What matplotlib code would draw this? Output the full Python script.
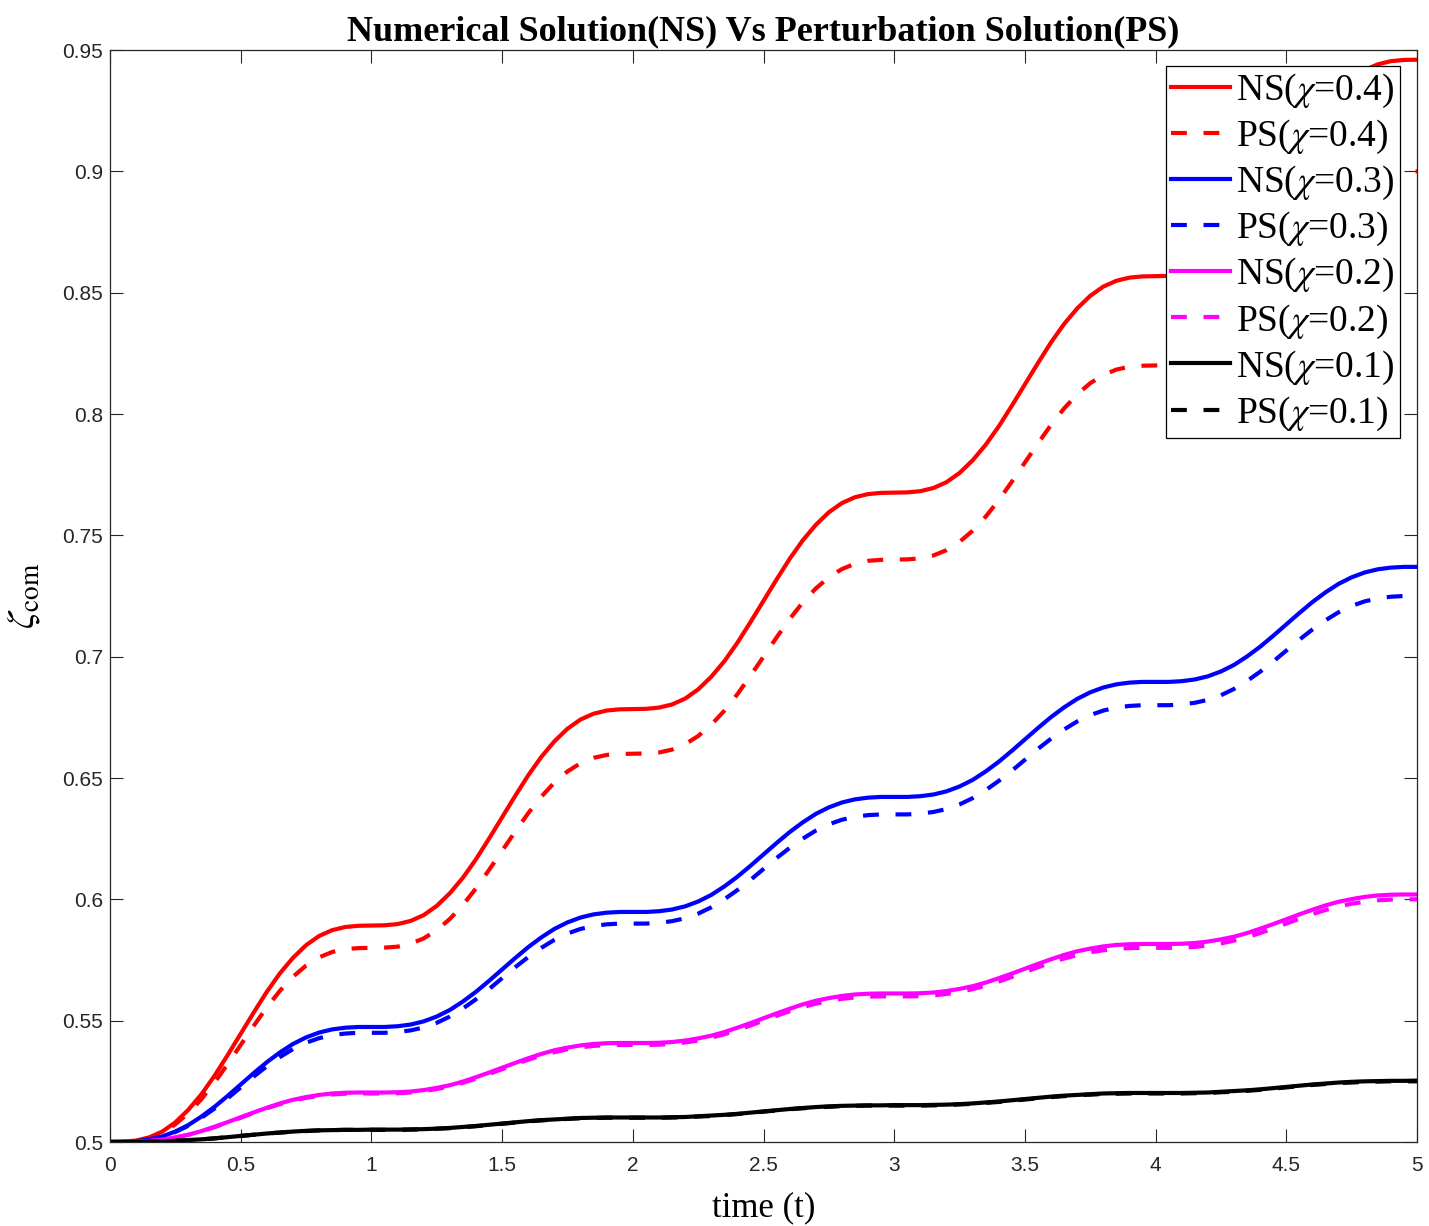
import matplotlib
matplotlib.use("Agg")
import matplotlib.pyplot as plt

# time samples every 0.05 from 0 to 5
t = [round(0.05 * i, 2) for i in range(101)]

ns_04 = [0.5000, 0.5001, 0.5006, 0.5019, 0.5043, 0.5081, 0.5133, 0.5197, 0.5273, 0.5358,
         0.5446, 0.5534, 0.5619, 0.5695, 0.5759, 0.5811, 0.5849, 0.5873, 0.5886, 0.5891,
         0.5892, 0.5893, 0.5898, 0.5911, 0.5935, 0.5973, 0.6025, 0.6089, 0.6165, 0.6250,
         0.6338, 0.6426, 0.6511, 0.6587, 0.6651, 0.6703, 0.6741, 0.6765, 0.6778, 0.6783,
         0.6784, 0.6785, 0.6790, 0.6803, 0.6827, 0.6865, 0.6917, 0.6981, 0.7057, 0.7142,
         0.7230, 0.7318, 0.7403, 0.7479, 0.7543, 0.7595, 0.7633, 0.7657, 0.7670, 0.7675,
         0.7676, 0.7677, 0.7682, 0.7695, 0.7719, 0.7757, 0.7809, 0.7873, 0.7949, 0.8034,
         0.8122, 0.8210, 0.8295, 0.8371, 0.8435, 0.8487, 0.8525, 0.8549, 0.8562, 0.8567,
         0.8568, 0.8569, 0.8574, 0.8587, 0.8611, 0.8649, 0.8701, 0.8765, 0.8841, 0.8926,
         0.9014, 0.9102, 0.9187, 0.9263, 0.9327, 0.9379, 0.9417, 0.9441, 0.9454, 0.9459,
         0.9460]
ps_04 = [0.5000, 0.5001, 0.5005, 0.5017, 0.5039, 0.5073, 0.5119, 0.5177, 0.5245, 0.5321,
         0.5400, 0.5479, 0.5555, 0.5623, 0.5681, 0.5727, 0.5761, 0.5783, 0.5795, 0.5799,
         0.5800, 0.5801, 0.5805, 0.5817, 0.5839, 0.5873, 0.5919, 0.5977, 0.6045, 0.6121,
         0.6200, 0.6279, 0.6355, 0.6423, 0.6481, 0.6527, 0.6561, 0.6583, 0.6595, 0.6599,
         0.6600, 0.6601, 0.6605, 0.6617, 0.6639, 0.6673, 0.6719, 0.6777, 0.6845, 0.6921,
         0.7000, 0.7079, 0.7155, 0.7223, 0.7281, 0.7327, 0.7361, 0.7383, 0.7395, 0.7399,
         0.7400, 0.7401, 0.7405, 0.7417, 0.7439, 0.7473, 0.7519, 0.7577, 0.7645, 0.7721,
         0.7800, 0.7879, 0.7955, 0.8023, 0.8081, 0.8127, 0.8161, 0.8183, 0.8195, 0.8199,
         0.8200, 0.8201, 0.8205, 0.8217, 0.8239, 0.8273, 0.8319, 0.8377, 0.8445, 0.8521,
         0.8600, 0.8679, 0.8755, 0.8823, 0.8881, 0.8927, 0.8961, 0.8983, 0.8995, 0.8999,
         0.9000]
ns_03 = [0.5000, 0.5000, 0.5003, 0.5010, 0.5023, 0.5043, 0.5070, 0.5105, 0.5145, 0.5190,
         0.5237, 0.5284, 0.5329, 0.5369, 0.5404, 0.5431, 0.5451, 0.5464, 0.5471, 0.5474,
         0.5474, 0.5474, 0.5477, 0.5484, 0.5497, 0.5517, 0.5544, 0.5579, 0.5619, 0.5664,
         0.5711, 0.5758, 0.5803, 0.5843, 0.5878, 0.5905, 0.5925, 0.5938, 0.5945, 0.5948,
         0.5948, 0.5948, 0.5951, 0.5958, 0.5971, 0.5991, 0.6018, 0.6053, 0.6093, 0.6138,
         0.6185, 0.6232, 0.6277, 0.6317, 0.6352, 0.6379, 0.6399, 0.6412, 0.6419, 0.6422,
         0.6422, 0.6422, 0.6425, 0.6432, 0.6445, 0.6465, 0.6492, 0.6527, 0.6567, 0.6612,
         0.6659, 0.6706, 0.6751, 0.6791, 0.6826, 0.6853, 0.6873, 0.6886, 0.6893, 0.6896,
         0.6896, 0.6896, 0.6899, 0.6906, 0.6919, 0.6939, 0.6966, 0.7001, 0.7041, 0.7086,
         0.7133, 0.7180, 0.7225, 0.7265, 0.7300, 0.7327, 0.7347, 0.7360, 0.7367, 0.7370,
         0.7370]
ps_03 = [0.5000, 0.5000, 0.5003, 0.5010, 0.5022, 0.5041, 0.5067, 0.5100, 0.5138, 0.5180,
         0.5225, 0.5270, 0.5312, 0.5350, 0.5383, 0.5409, 0.5428, 0.5440, 0.5447, 0.5450,
         0.5450, 0.5450, 0.5453, 0.5460, 0.5472, 0.5491, 0.5517, 0.5550, 0.5588, 0.5630,
         0.5675, 0.5720, 0.5762, 0.5800, 0.5833, 0.5859, 0.5878, 0.5890, 0.5897, 0.5900,
         0.5900, 0.5900, 0.5903, 0.5910, 0.5922, 0.5941, 0.5967, 0.6000, 0.6038, 0.6080,
         0.6125, 0.6170, 0.6212, 0.6250, 0.6283, 0.6309, 0.6328, 0.6340, 0.6347, 0.6350,
         0.6350, 0.6350, 0.6353, 0.6360, 0.6372, 0.6391, 0.6417, 0.6450, 0.6488, 0.6530,
         0.6575, 0.6620, 0.6662, 0.6700, 0.6733, 0.6759, 0.6778, 0.6790, 0.6797, 0.6800,
         0.6800, 0.6800, 0.6803, 0.6810, 0.6822, 0.6841, 0.6867, 0.6900, 0.6938, 0.6980,
         0.7025, 0.7070, 0.7112, 0.7150, 0.7183, 0.7209, 0.7228, 0.7240, 0.7247, 0.7250,
         0.7250]
ns_02 = [0.5000, 0.5000, 0.5001, 0.5004, 0.5010, 0.5019, 0.5030, 0.5045, 0.5063, 0.5082,
         0.5102, 0.5122, 0.5141, 0.5159, 0.5174, 0.5185, 0.5194, 0.5200, 0.5203, 0.5204,
         0.5204, 0.5204, 0.5205, 0.5208, 0.5214, 0.5223, 0.5234, 0.5249, 0.5267, 0.5286,
         0.5306, 0.5326, 0.5345, 0.5363, 0.5378, 0.5389, 0.5398, 0.5404, 0.5407, 0.5408,
         0.5408, 0.5408, 0.5409, 0.5412, 0.5418, 0.5427, 0.5438, 0.5453, 0.5471, 0.5490,
         0.5510, 0.5530, 0.5549, 0.5567, 0.5582, 0.5593, 0.5602, 0.5608, 0.5611, 0.5612,
         0.5612, 0.5612, 0.5613, 0.5616, 0.5622, 0.5631, 0.5642, 0.5657, 0.5675, 0.5694,
         0.5714, 0.5734, 0.5753, 0.5771, 0.5786, 0.5797, 0.5806, 0.5812, 0.5815, 0.5816,
         0.5816, 0.5816, 0.5817, 0.5820, 0.5826, 0.5835, 0.5846, 0.5861, 0.5879, 0.5898,
         0.5918, 0.5938, 0.5957, 0.5975, 0.5990, 0.6001, 0.6010, 0.6016, 0.6019, 0.6020,
         0.6020]
ps_02 = [0.5000, 0.5000, 0.5001, 0.5004, 0.5010, 0.5018, 0.5030, 0.5044, 0.5061, 0.5080,
         0.5100, 0.5120, 0.5139, 0.5156, 0.5170, 0.5182, 0.5190, 0.5196, 0.5199, 0.5200,
         0.5200, 0.5200, 0.5201, 0.5204, 0.5210, 0.5218, 0.5230, 0.5244, 0.5261, 0.5280,
         0.5300, 0.5320, 0.5339, 0.5356, 0.5370, 0.5382, 0.5390, 0.5396, 0.5399, 0.5400,
         0.5400, 0.5400, 0.5401, 0.5404, 0.5410, 0.5418, 0.5430, 0.5444, 0.5461, 0.5480,
         0.5500, 0.5520, 0.5539, 0.5556, 0.5570, 0.5582, 0.5590, 0.5596, 0.5599, 0.5600,
         0.5600, 0.5600, 0.5601, 0.5604, 0.5610, 0.5618, 0.5630, 0.5644, 0.5661, 0.5680,
         0.5700, 0.5720, 0.5739, 0.5756, 0.5770, 0.5782, 0.5790, 0.5796, 0.5799, 0.5800,
         0.5800, 0.5800, 0.5801, 0.5804, 0.5810, 0.5818, 0.5830, 0.5844, 0.5861, 0.5880,
         0.5900, 0.5920, 0.5939, 0.5956, 0.5970, 0.5982, 0.5990, 0.5996, 0.5999, 0.6000,
         0.6000]
ns_01 = [0.5000, 0.5000, 0.5000, 0.5001, 0.5002, 0.5005, 0.5008, 0.5011, 0.5015, 0.5020,
         0.5025, 0.5030, 0.5035, 0.5039, 0.5043, 0.5046, 0.5048, 0.5049, 0.5050, 0.5050,
         0.5051, 0.5051, 0.5051, 0.5052, 0.5053, 0.5055, 0.5058, 0.5062, 0.5066, 0.5071,
         0.5076, 0.5081, 0.5086, 0.5090, 0.5093, 0.5096, 0.5099, 0.5100, 0.5101, 0.5101,
         0.5101, 0.5101, 0.5101, 0.5102, 0.5103, 0.5106, 0.5109, 0.5112, 0.5116, 0.5121,
         0.5126, 0.5131, 0.5136, 0.5140, 0.5144, 0.5147, 0.5149, 0.5150, 0.5151, 0.5151,
         0.5152, 0.5152, 0.5152, 0.5153, 0.5154, 0.5156, 0.5159, 0.5163, 0.5167, 0.5172,
         0.5177, 0.5182, 0.5187, 0.5191, 0.5194, 0.5197, 0.5200, 0.5201, 0.5202, 0.5202,
         0.5202, 0.5202, 0.5202, 0.5203, 0.5204, 0.5207, 0.5210, 0.5213, 0.5217, 0.5222,
         0.5227, 0.5232, 0.5237, 0.5241, 0.5245, 0.5248, 0.5250, 0.5251, 0.5252, 0.5252,
         0.5253]
ps_01 = [0.5000, 0.5000, 0.5000, 0.5001, 0.5002, 0.5005, 0.5007, 0.5011, 0.5015, 0.5020,
         0.5025, 0.5030, 0.5035, 0.5039, 0.5043, 0.5045, 0.5048, 0.5049, 0.5050, 0.5050,
         0.5050, 0.5050, 0.5050, 0.5051, 0.5052, 0.5055, 0.5057, 0.5061, 0.5065, 0.5070,
         0.5075, 0.5080, 0.5085, 0.5089, 0.5093, 0.5095, 0.5098, 0.5099, 0.5100, 0.5100,
         0.5100, 0.5100, 0.5100, 0.5101, 0.5102, 0.5105, 0.5107, 0.5111, 0.5115, 0.5120,
         0.5125, 0.5130, 0.5135, 0.5139, 0.5143, 0.5145, 0.5148, 0.5149, 0.5150, 0.5150,
         0.5150, 0.5150, 0.5150, 0.5151, 0.5152, 0.5155, 0.5157, 0.5161, 0.5165, 0.5170,
         0.5175, 0.5180, 0.5185, 0.5189, 0.5193, 0.5195, 0.5198, 0.5199, 0.5200, 0.5200,
         0.5200, 0.5200, 0.5200, 0.5201, 0.5202, 0.5205, 0.5207, 0.5211, 0.5215, 0.5220,
         0.5225, 0.5230, 0.5235, 0.5239, 0.5243, 0.5245, 0.5248, 0.5249, 0.5250, 0.5250,
         0.5250]

chi_values = ["0.4", "0.3", "0.2", "0.1"]
colors = ["#ff0000", "#0000ff", "#ff00ff", "#000000"]
ns_series = [ns_04, ns_03, ns_02, ns_01]
ps_series = [ps_04, ps_03, ps_02, ps_01]

xticks = [0, 0.5, 1, 1.5, 2, 2.5, 3, 3.5, 4, 4.5, 5]
xticklabels = ["0", "0.5", "1", "1.5", "2", "2.5", "3", "3.5", "4", "4.5", "5"]
yticks = [0.5, 0.55, 0.6, 0.65, 0.7, 0.75, 0.8, 0.85, 0.9, 0.95]
yticklabels = ["0.5", "0.55", "0.6", "0.65", "0.7", "0.75", "0.8", "0.85", "0.9", "0.95"]

plt.rcParams["mathtext.fontset"] = "stix"
plt.rcParams["font.family"] = ["Liberation Sans", "DejaVu Sans"]

fig = plt.figure(figsize=(14.29, 12.26), dpi=100)
W, H = 1429, 1226
ax = fig.add_axes([110 / W, 1 - 1142 / H, (1417 - 110) / W, (1142 - 50) / H])

lw = 3.0
for chi, col, ns, ps in zip(chi_values, colors, ns_series, ps_series):
    ax.plot(t, ns, color=col, lw=lw, linestyle="-", label=r"NS($\chi$=" + chi + ")")
    ax.plot(t, ps, color=col, lw=lw, linestyle=(0, (3.8, 4.0)), label=r"PS($\chi$=" + chi + ")")

ax.set_xlim(0, 5)
ax.set_ylim(0.5, 0.95)
ax.set_xticks(xticks)
ax.set_xticklabels(xticklabels)
ax.set_yticks(yticks)
ax.set_yticklabels(yticklabels)

edge = "#262626"
for s in ax.spines.values():
    s.set_color(edge)
    s.set_linewidth(0.9)
ax.tick_params(direction="in", length=9.4, width=0.8, colors=edge, labelsize=15,
               top=True, right=True)
ax.tick_params(axis="x", pad=10)
ax.tick_params(axis="y", pad=5)

serif = "Liberation Serif"
ax.set_title("Numerical Solution(NS) Vs Perturbation Solution(PS)", fontsize=26,
             fontweight="bold", family=serif, pad=7)
ax.set_xlabel("time (t)", fontsize=25, family=serif, labelpad=12)
ax.set_ylabel(r"$\zeta_{\rm com}$", fontsize=28, family=serif, labelpad=14)

leg = ax.legend(loc="upper right", bbox_to_anchor=(0.987, 0.9853), borderaxespad=0,
                prop={"family": serif, "size": 27}, handlelength=1.57,
                handletextpad=0.15, labelspacing=0.21, borderpad=0.15,
                fancybox=False, edgecolor="black", framealpha=1)
leg.get_frame().set_linewidth(0.9)

fig.savefig("out.png", dpi=100)
